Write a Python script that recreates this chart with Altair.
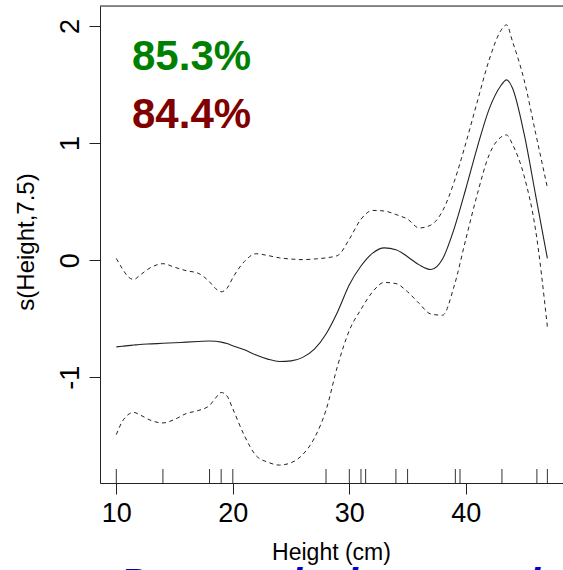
import altair as alt
import pandas as pd

# Smooth term s(Height,7.5): fit and +/- 2 SE bands
height_grid = [10, 10.5, 11, 11.5, 12, 13, 14, 15, 16, 17, 18, 18.5, 19, 19.5, 20,
               21, 22, 23, 24, 25, 26, 27, 28, 29, 30, 31, 32, 33, 34, 35, 36,
               37, 38, 39, 40, 41, 42, 43, 43.5, 44, 45, 46, 47]
fit = [-0.74, -0.735, -0.73, -0.725, -0.72, -0.715, -0.71, -0.705, -0.70, -0.695,
       -0.69, -0.692, -0.70, -0.712, -0.73, -0.765, -0.81, -0.845, -0.865, -0.86,
       -0.83, -0.76, -0.63, -0.44, -0.21, -0.05, 0.06, 0.105, 0.09, 0.03, -0.04,
       -0.08, 0.01, 0.27, 0.61, 0.97, 1.29, 1.49, 1.54, 1.47, 1.08, 0.55, 0.015]
upper = [0.015, -0.07, -0.14, -0.165, -0.13, -0.06, -0.03, -0.06, -0.09, -0.11,
         -0.185, -0.24, -0.27, -0.24, -0.15, -0.01, 0.055, 0.04, 0.02, 0.01,
         0.005, 0.01, 0.02, 0.04, 0.18, 0.35, 0.425, 0.42, 0.39, 0.35, 0.275,
         0.30, 0.42, 0.67, 1.00, 1.36, 1.71, 1.96, 2.01, 1.87, 1.54, 1.08, 0.62]
lower = [-1.49, -1.38, -1.32, -1.30, -1.32, -1.37, -1.39, -1.36, -1.31, -1.285,
         -1.24, -1.18, -1.13, -1.16, -1.27, -1.50, -1.67, -1.725, -1.75, -1.73,
         -1.66, -1.52, -1.28, -0.90, -0.60, -0.42, -0.27, -0.19, -0.20, -0.27,
         -0.37, -0.46, -0.47, -0.22, 0.18, 0.57, 0.90, 1.05, 1.07, 0.99, 0.72,
         0.25, -0.57]

# rug of observed heights
rug_heights = [10, 14, 18, 19, 20, 28, 30, 31, 31.4, 34, 35, 39.1, 39.5, 43.1, 46.1, 47]

x_ticks = [10, 20, 30, 40]
y_ticks = [-1, 0, 1, 2]

pct_labels = ["85.3%", "84.4%"]
pct_colors = ["#008000", "#800000"]
caption = "Percent deviance explained"

W, H = 463, 477
x_dom = [8.6, 48.34]
y_dom = [-1.903, 2.171]

curves = pd.DataFrame({"Height": height_grid, "fit": fit, "upper": upper, "lower": lower})
rug = pd.DataFrame({"Height": rug_heights})

xs = alt.Scale(domain=x_dom, nice=False, zero=False)
ys = alt.Scale(domain=y_dom, nice=False, zero=False)

x_axis = alt.Axis(values=x_ticks, grid=False, domainColor="#222", tickColor="#222",
                  tickSize=11, labelFontSize=27, labelFont="Liberation Sans",
                  labelColor="black", labelBaseline="alphabetic", labelPadding=27,
                  labelOverlap=False, labelFlush=False,
                  labelExpr="toString(datum.value)",
                  title="Height (cm)", titleFont="Liberation Sans", titleFontSize=23,
                  titleFontWeight="normal", titleColor="black",
                  titleX=231, titleY=76, titleAlign="center", titleBaseline="alphabetic")
y_axis = alt.Axis(values=y_ticks, grid=False, domainColor="#222", tickColor="#222",
                  tickSize=11, labelFontSize=27, labelFont="Liberation Sans",
                  labelColor="black", labelAngle=270, labelAlign="center",
                  labelBaseline="alphabetic", labelPadding=10.5, labelOverlap=False,
                  labelFlush=False, labelExpr="toString(datum.value)",
                  title="s(Height,7.5)", titleFont="Liberation Sans", titleFontSize=24,
                  titleFontWeight="normal", titleColor="black", titleAngle=270,
                  titleX=-67, titleY=235.5, titleAlign="center", titleBaseline="alphabetic")

base = alt.Chart(curves)

fit_line = base.mark_line(color="#222", strokeWidth=1.1, interpolate="monotone").encode(
    x=alt.X("Height:Q", scale=xs, axis=x_axis),
    y=alt.Y("fit:Q", scale=ys, axis=y_axis),
)
up_line = base.mark_line(color="#222", strokeWidth=1, strokeDash=[4, 3.5],
                         interpolate="monotone").encode(
    x=alt.X("Height:Q", scale=xs), y=alt.Y("upper:Q", scale=ys))
lo_line = base.mark_line(color="#222", strokeWidth=1, strokeDash=[4, 3.5],
                         interpolate="monotone").encode(
    x=alt.X("Height:Q", scale=xs), y=alt.Y("lower:Q", scale=ys))

rug_marks = alt.Chart(rug).mark_rule(color="#333", strokeWidth=1).encode(
    x=alt.X("Height:Q", scale=xs),
    y=alt.value(H - 14), y2=alt.value(H),
)

top_border = alt.Chart(pd.DataFrame({"k": [0]})).mark_rule(color="#222", strokeWidth=1).encode(
    x=alt.value(0), x2=alt.value(W), y=alt.value(0))

pct1 = alt.Chart(pd.DataFrame({"t": [pct_labels[0]]})).mark_text(
    align="left", baseline="alphabetic", font="Liberation Sans Narrow, Liberation Sans",
    fontSize=42, fontWeight="bold", color=pct_colors[0]).encode(
    text="t:N", x=alt.value(32), y=alt.value(64))
pct2 = alt.Chart(pd.DataFrame({"t": [pct_labels[1]]})).mark_text(
    align="left", baseline="alphabetic", font="Liberation Sans Narrow, Liberation Sans",
    fontSize=42, fontWeight="bold", color=pct_colors[1]).encode(
    text="t:N", x=alt.value(32), y=alt.value(122))

cap = alt.Chart(pd.DataFrame({"t": [caption]})).mark_text(
    align="left", baseline="alphabetic", font="Liberation Sans", fontSize=40,
    fontWeight="bold", fontStyle="italic", color="#0000cc").encode(
    text="t:N", x=alt.value(20), y=alt.value(H + 114))

chart = alt.layer(top_border, rug_marks, lo_line, up_line, fit_line, pct1, pct2, cap).properties(
    width=W, height=H,
    autosize=alt.AutoSizeParams(type="none"),
    padding={"left": 100, "top": 6, "right": 0, "bottom": 87},
).configure_view(stroke=None).configure(background="white")

chart.save("out.html", embed_options={"renderer": "svg", "actions": False})
